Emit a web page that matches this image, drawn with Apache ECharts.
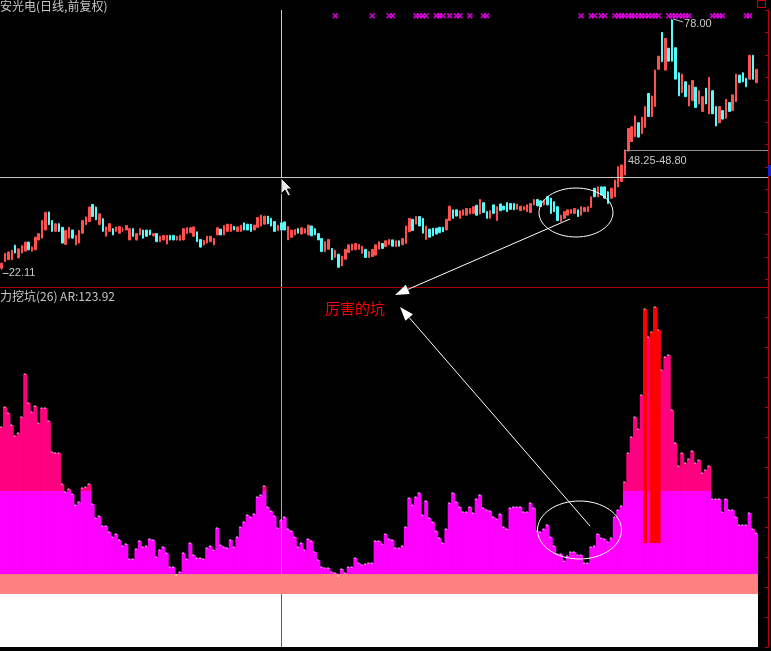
<!DOCTYPE html>
<html>
<head>
<meta charset="utf-8">
<script src="https://cdn.jsdelivr.net/npm/echarts/dist/echarts.min.js"></script>
<style>
html,body{margin:0;padding:0;background:#000;}
#c{width:771px;height:651px;}
</style>
</head>
<body>
<div id="c"></div>
<script>
// ---- price candles: [open, close, low, high] ----
const candles = [
[22.5,23.6,22.11,23.7],[24.0,25.8,23.9,25.9],[24.4,26.1,24.3,26.2],[24.4,26.5,24.3,26.6],[27.6,25.9,25.8,27.7],
[24.8,26.8,24.7,26.9],[25.9,27.5,25.8,27.7],[26.3,28.3,26.2,28.4],[28.3,26.6,26.5,28.4],[26.3,27.2,26.2,27.3],
[26.6,29.4,26.5,29.5],[28.8,30.2,28.7,30.3],[29.2,33.1,29.1,33.2],[31.0,34.9,31.0,35.1],[35.0,32.2,32.1,35.1],
[33.1,30.7,30.6,33.2],[30.7,32.4,30.6,32.5],[32.4,30.7,30.6,32.5],[31.6,28.1,28.0,31.7],[27.8,30.9,27.7,31.0],
[29.2,31.6,29.1,31.7],[31.0,29.2,29.1,31.0],[27.7,29.8,27.6,29.9],[28.1,30.9,28.0,31.0],[30.3,33.1,30.2,33.2],
[32.2,33.9,32.1,34.0],[32.9,36.1,32.8,36.2],[36.7,34.0,33.9,36.8],[36.1,33.3,33.2,36.2],[32.2,34.6,32.1,34.7],
[33.5,30.7,30.6,33.6],[29.6,31.7,29.5,31.7],[30.7,32.4,30.6,32.5],[31.3,29.9,29.9,31.4],[30.7,31.7,30.6,31.7],
[30.3,31.8,30.2,31.9],[31.0,31.1,30.6,31.6],[31.0,32.0,31.0,32.1],[28.8,31.3,28.7,31.4],[31.3,29.6,29.5,31.4],
[28.8,30.2,28.7,30.3],[29.9,31.3,29.9,31.4],[31.0,29.2,29.1,31.0],[31.0,29.6,29.5,31.0],[31.0,29.9,29.9,31.0],
[29.7,30.2,29.6,30.3],[30.2,28.4,28.4,30.3],[28.4,29.6,28.4,29.7],[28.8,29.8,28.7,29.9],[27.9,29.8,27.8,29.9],
[29.8,28.8,28.7,29.9],[29.8,28.8,28.7,29.9],[28.8,29.6,28.7,29.7],[28.7,29.8,28.6,29.9],[28.8,31.3,28.7,31.4],
[30.2,31.5,30.2,31.6],[30.4,31.5,30.4,31.6],[29.6,31.7,29.5,31.7],[30.6,28.4,28.4,30.6],[28.9,27.2,27.1,28.9],
[27.7,28.7,27.6,28.8],[28.1,29.6,28.0,29.7],[28.4,29.6,28.4,29.7],[27.7,29.1,27.6,29.2],[29.9,31.5,29.9,31.6],
[31.2,29.9,29.9,31.2],[29.9,32.0,29.9,32.1],[30.7,32.3,30.6,32.3],[30.7,32.3,30.6,32.3],[31.8,31.0,31.0,31.9],
[30.7,31.7,30.6,31.7],[30.7,32.1,30.6,32.1],[32.6,31.0,31.0,32.6],[32.3,31.0,31.0,32.3],[32.3,30.7,30.6,32.3],
[31.0,32.1,31.0,32.1],[31.6,33.8,31.6,33.8],[31.9,34.3,31.8,34.4],[32.3,34.1,32.3,34.1],[34.1,32.4,32.3,34.1],
[33.6,31.9,31.8,33.6],[32.9,30.7,30.6,32.9],[30.9,32.1,30.8,32.1],[32.6,31.0,31.0,32.6],[32.8,31.0,31.0,32.9],
[28.8,31.8,28.8,31.9],[29.4,31.0,29.3,31.0],[29.9,31.1,29.9,31.2],[31.3,30.3,30.3,31.4],[30.1,31.5,30.1,31.6],
[30.3,31.3,30.3,31.4],[29.9,32.1,29.9,32.1],[31.9,29.7,29.7,31.9],[31.3,29.9,29.9,31.4],[30.2,28.8,28.8,30.3],
[29.1,26.2,26.2,29.2],[26.2,28.4,26.2,28.4],[26.7,28.9,26.7,28.9],[26.9,24.4,24.3,26.9],[24.9,26.5,24.9,26.6],
[25.6,22.7,22.7,25.7],[23.0,25.2,23.0,25.2],[24.5,26.7,24.5,26.7],[26.0,27.7,26.0,27.7],[26.5,27.9,26.5,27.9],
[26.6,28.0,26.6,28.0],[26.7,27.8,26.7,27.8],[25.8,27.4,25.8,27.4],[26.7,24.9,24.9,26.7],[24.9,26.2,24.9,26.2],
[25.1,26.7,25.1,26.7],[25.4,27.7,25.4,27.7],[26.7,28.4,26.7,28.4],[28.0,26.9,26.9,28.0],[27.3,28.6,27.3,28.6],
[27.7,28.9,27.7,28.9],[28.8,27.4,27.4,28.8],[27.3,28.6,27.3,28.6],[28.6,27.4,27.4,28.6],[27.7,29.1,27.7,29.2],
[28.0,31.9,28.0,31.9],[30.6,33.6,30.6,33.6],[33.4,30.9,30.8,33.4],[32.3,34.0,32.3,34.0],[34.0,31.9,31.9,34.0],
[33.6,30.3,30.3,33.6],[28.9,31.9,28.9,31.9],[31.2,29.4,29.4,31.2],[31.4,29.7,29.7,31.4],[31.4,30.1,30.1,31.4],
[31.6,30.4,30.4,31.6],[31.6,30.6,30.6,31.6],[31.0,33.4,31.0,33.4],[33.1,36.3,33.1,36.4],[35.5,33.6,33.6,35.5],
[35.5,34.1,34.1,35.5],[33.6,35.3,33.6,35.3],[34.3,35.5,34.3,35.5],[34.3,35.8,34.3,35.8],[34.6,35.8,34.6,35.8],
[34.7,36.2,34.7,36.2],[36.5,34.3,34.3,36.6],[34.6,37.8,34.5,37.9],[37.1,34.9,34.9,37.1],[35.1,33.6,33.6,35.1],
[33.6,35.3,33.6,35.3],[36.6,34.7,34.7,36.6],[33.1,36.2,33.1,36.2],[36.8,35.3,35.3,36.8],[36.3,35.5,35.5,36.4],
[37.1,35.1,35.1,37.1],[36.9,35.6,35.6,37.0],[36.9,35.5,35.5,37.0],[35.6,36.8,35.6,36.8],[35.3,36.3,35.3,36.4],
[35.5,36.2,35.4,36.2],[35.1,36.6,35.0,36.6],[34.9,36.9,34.9,37.0],[36.6,37.8,36.5,37.9],[37.8,36.4,36.3,37.9],
[37.5,36.2,36.2,37.6],[36.6,37.7,36.5,37.7],[38.4,36.6,36.5,38.4],[38.1,34.7,34.7,38.1],[37.3,35.1,35.1,37.3],
[36.2,33.1,33.0,36.2],[32.9,34.3,32.8,34.4],[33.6,35.1,33.6,35.1],[34.3,35.5,34.3,35.5],[34.7,35.6,34.7,35.6],
[34.7,35.8,34.7,35.9],[35.5,34.0,33.9,35.5],[34.3,36.2,34.3,36.2],[35.1,36.0,35.1,36.1],[35.1,36.2,35.1,36.2],
[36.0,38.4,36.0,38.4],[40.3,38.4,38.4,40.3],[38.4,40.6,38.4,40.7],[40.6,38.8,38.8,40.7],[40.6,38.1,38.0,40.7],
[39.5,36.9,36.9,39.6],[38.1,40.3,38.0,40.3],[38.4,42.1,38.4,42.2],[40.6,45.1,40.6,45.1],[41.8,45.5,41.8,45.5],
[43.3,48.8,43.2,48.9],[48.6,53.6,48.5,53.7],[50.7,54.0,50.6,54.1],[51.8,56.4,51.7,56.5],[54.9,51.7,51.6,55.0],
[52.5,56.1,52.5,56.2],[53.9,58.5,53.8,58.5],[61.4,56.3,56.2,61.5],[56.3,60.8,56.2,60.9],[58.5,66.6,58.4,66.7],
[66.8,69.7,66.7,69.8],[75.0,68.5,68.4,75.1],[66.6,73.7,66.6,73.7],[71.5,68.6,68.6,71.5],[77.8,68.6,68.6,78.0],
[71.6,64.6,64.6,71.6],[66.0,60.9,60.8,66.1],[61.6,65.7,61.6,65.8],[64.0,60.7,60.7,64.1],[58.6,63.3,58.6,63.3],
[59.8,64.3,59.8,64.3],[62.8,58.3,58.3,62.8],[59.1,62.0,59.0,62.1],[57.4,60.7,57.3,60.7],[62.6,59.1,59.0,62.6],
[56.9,65.0,56.8,65.0],[62.0,56.9,56.8,62.1],[58.5,54.2,54.1,58.5],[54.9,58.5,54.9,58.5],[57.6,55.7,55.6,57.6],
[55.9,60.1,55.8,60.1],[59.4,57.4,57.3,59.4],[57.6,61.1,57.6,61.1],[59.6,65.7,59.6,65.8],[65.5,63.8,63.8,65.5],
[66.0,64.0,64.0,66.1],[64.8,62.9,62.9,64.8],[64.6,69.9,64.5,70.0],[69.9,64.6,64.5,70.0],[63.8,66.8,63.8,66.8]
];

// ---- indicator (力挖坑) values, one per day ----
const arValues = [
220,240,234,222,211,214,230,273,244,235,
241,224,239,239,226,195,194,194,163,155,
158,153,142,145,159,160,163,143,129,131,
121,121,115,110,113,107,101,103,88,88,
98,106,100,101,108,107,90,97,100,94,
80,80,72,75,94,88,104,92,89,89,
88,99,101,97,119,102,100,99,107,100,
110,120,125,132,130,133,150,152,161,140,
136,131,119,127,130,118,116,110,100,104,
97,108,106,95,87,80,79,79,75,74,
71,78,74,80,80,89,84,82,83,84,
84,106,106,103,113,108,107,99,99,101,
120,149,142,150,154,132,146,129,125,116,
109,104,118,144,154,145,140,135,135,140,
134,148,152,139,137,136,130,128,133,120,
118,139,140,140,140,135,135,144,139,116,
115,118,122,110,101,93,93,86,91,95,
95,92,92,84,84,100,101,113,109,108,
105,109,130,137,141,165,194,210,230,218,
252,338,310,315,340,317,277,290,292,237,
204,181,194,184,188,196,184,187,174,177,
181,148,148,148,135,148,137,137,130,122,
122,122,134,118,114
];

// ---- levels of the indicator bands ----
const whiteTop = 53;      // white band 0..53
const salmonTop = 73;     // salmon band 53..73, magenta bars start here
const pinkLevel = 156;    // above this the bar turns pink
const redBase = 104;      // red signal bars start here
const redDays = [191, 193, 194, 195];

// ---- signal markers (×) on the price panel ----
const markerDays = [99,110,115,116,123,124,125,126,129,130,131,133,135,136,139,143,144,
  172,175,176,178,179,182,183,184,185,186,187,188,189,190,191,192,193,194,195,
  198,199,200,201,202,203,204,211,212,213,214,221,222];
const markerLevel = 78.7;

const cursorDay = 83;     // crosshair day
const cursorPrice = 42.7; // crosshair price
const lowPrice = 22.11, lowDay = 0;
const highPrice = 78.00, highDay = 199;

const days = candles.map((_, i) => String(i + 1));

const magentaPart = arValues.map(v => Math.max(0, Math.min(v, pinkLevel) - salmonTop));
const pinkPart = arValues.map(v => Math.max(0, v - pinkLevel));
const baseMag = arValues.map(() => salmonTop);
const redBaseData = arValues.map((v, i) => redDays.includes(i) ? redBase : '-');
const redPart = arValues.map((v, i) => redDays.includes(i) ? v - redBase : '-');

const chart = echarts.init(document.getElementById('c'), null, {renderer: 'canvas'});
const crossColor = '#c8c8c8';
const axisRed = '#c00000';
const X_PATH = 'path://M0,2L2,0L5,3L8,0L10,2L7,5L10,8L8,10L5,7L2,10L0,8L3,5Z';
const BW = 4; // bar width (slightly wider than a slot so neighbours overlap without seams)

const hiddenX = (gi) => ({
  type: 'category', data: days, gridIndex: gi, boundaryGap: true,
  axisLine: {show: false}, axisTick: {show: false}, axisLabel: {show: false}, splitLine: {show: false}
});

const option = {
  backgroundColor: '#000',
  animation: false,
  grid: [
    {left: 0, top: 10, width: 758, height: 277},
    {left: 0, top: 287, width: 758, height: 360}
  ],
  xAxis: [hiddenX(0), hiddenX(1)],
  yAxis: [
    {type: 'value', gridIndex: 0, min: 18.31, max: 80, position: 'right', offset: 10, splitNumber: 12,
     axisLine: {show: true, lineStyle: {color: axisRed}},
     axisTick: {show: true, inside: true, length: 3, lineStyle: {color: axisRed}},
     axisLabel: {show: false}, splitLine: {show: false}},
    {type: 'value', gridIndex: 1, min: 0, max: 360, position: 'right', offset: 10, splitNumber: 14,
     axisLine: {show: true, lineStyle: {color: axisRed}},
     axisTick: {show: true, inside: true, length: 3, lineStyle: {color: axisRed}},
     axisLabel: {show: false}, splitLine: {show: false}}
  ],
  series: [
    {
      type: 'candlestick', xAxisIndex: 0, yAxisIndex: 0, data: candles, barWidth: 2,
      itemStyle: {color: '#ff5050', color0: '#54fcfc', borderColor: '#ff5050', borderColor0: '#54fcfc', borderWidth: 1},
      markLine: {
        silent: true, symbol: 'none', label: {show: false},
        lineStyle: {color: crossColor, width: 1, type: 'solid'},
        data: [{xAxis: days[cursorDay]}, {yAxis: cursorPrice}]
      },
      z: 3
    },
    {
      type: 'scatter', xAxisIndex: 0, yAxisIndex: 0, symbol: X_PATH, symbolSize: 6,
      itemStyle: {color: '#ff00ff'},
      data: markerDays.map(d => [d, markerLevel]), z: 4
    },
    {
      type: 'bar', xAxisIndex: 1, yAxisIndex: 1, stack: 'ar', data: baseMag,
      barWidth: BW, barGap: '-100%',
      itemStyle: {color: 'rgba(0,0,0,0)'},
      markArea: {
        silent: true,
        data: [
          [{yAxis: 0, itemStyle: {color: '#ffffff'}}, {yAxis: whiteTop}],
          [{yAxis: whiteTop, itemStyle: {color: '#ff8080'}}, {yAxis: salmonTop}]
        ]
      },
      z: 1
    },
    {
      type: 'bar', xAxisIndex: 1, yAxisIndex: 1, stack: 'ar', data: magentaPart,
      barWidth: BW, barGap: '-100%',
      itemStyle: {color: '#ff00ff'}, z: 2
    },
    {
      type: 'bar', xAxisIndex: 1, yAxisIndex: 1, stack: 'ar', data: pinkPart,
      barWidth: BW, barGap: '-100%',
      itemStyle: {color: '#ff0080'}, z: 2
    },
    {
      type: 'bar', xAxisIndex: 1, yAxisIndex: 1, stack: 'red', data: redBaseData,
      barWidth: BW, barGap: '-100%',
      itemStyle: {color: 'rgba(0,0,0,0)'}, z: 3
    },
    {
      type: 'bar', xAxisIndex: 1, yAxisIndex: 1, stack: 'red', data: redPart,
      barWidth: BW, barGap: '-100%',
      itemStyle: {color: '#ff0000'}, z: 3
    },
    {
      type: 'scatter', xAxisIndex: 1, yAxisIndex: 1, symbol: 'rect', symbolSize: [2, 1], symbolOffset: [-0.5, 0],
      itemStyle: {color: '#ffffff'}, data: arValues.map((v, i) => [i, v]), z: 4,
      markLine: {
        silent: true, symbol: 'none', label: {show: false},
        lineStyle: {color: '#a8a8a8', width: 1, type: 'solid'},
        data: [
          [{coord: [days[cursorDay], whiteTop]}, {coord: [days[cursorDay], 360]}],
          [{coord: [days[cursorDay], 0], lineStyle: {color: '#606060'}}, {coord: [days[cursorDay], whiteTop]}]
        ]
      }
    }
  ]
};
chart.setOption(option);

// ---- annotations ----
function arrow(x1, y1, x2, y2) {
  const a = Math.atan2(y2 - y1, x2 - x1), L = 14, Wd = 5;
  const bx = x2 - L * Math.cos(a), by = y2 - L * Math.sin(a);
  const nx = -Math.sin(a) * Wd, ny = Math.cos(a) * Wd;
  return [
    {type: 'line', shape: {x1: x1, y1: y1, x2: bx, y2: by}, style: {stroke: '#fff', lineWidth: 1}, z: 10},
    {type: 'polygon', shape: {points: [[x2, y2], [bx + nx, by + ny], [bx - nx, by - ny]]}, style: {fill: '#fff'}, z: 10}
  ];
}
const lowPt = chart.convertToPixel({xAxisIndex: 0, yAxisIndex: 0}, [lowDay, lowPrice]);
const highPt = chart.convertToPixel({xAxisIndex: 0, yAxisIndex: 0}, [highDay, highPrice]);
const txt = (x, y, s, color, size, family) => ({
  type: 'text', x: x, y: y, z: 12,
  style: {text: s, fill: color, font: (size || 12) + 'px ' + (family || '"Noto Sans CJK SC"'), textVerticalAlign: 'middle'}
});
const numFont = '"Liberation Sans", "DejaVu Sans"';
const gfx = [
  {type: 'line', shape: {x1: 0, y1: 287.5, x2: 769, y2: 287.5}, style: {stroke: '#b00000', lineWidth: 1}, z: 9},
  {type: 'line', shape: {x1: 758, y1: 177.5, x2: 768, y2: 177.5}, style: {stroke: crossColor, lineWidth: 1}, z: 9},
  txt(0, 6, '安光电(日线,前复权)', '#c8c8c8', 12),
  txt(0, 296, '力挖坑(26) AR:123.92', '#c8c8c8', 12),
  txt(325, 308, '厉害的坑', '#ff0000', 15),
  // price labels
  {type: 'line', shape: {x1: lowPt[0] + 1, y1: lowPt[1] + 3.5, x2: lowPt[0] + 7, y2: lowPt[1] + 3.5}, style: {stroke: '#c8c8c8', lineWidth: 1}, z: 12},
  txt(lowPt[0] + 7, lowPt[1] + 3.5, '22.11', '#c8c8c8', 11, numFont),
  {type: 'line', shape: {x1: highPt[0] + 1, y1: highPt[1], x2: highPt[0] + 11, y2: highPt[1] + 3}, style: {stroke: '#c8c8c8', lineWidth: 1}, z: 12},
  txt(highPt[0] + 12, highPt[1] + 4.5, '78.00', '#c8c8c8', 11, numFont),
  {type: 'line', shape: {x1: 624, y1: 150.5, x2: 768, y2: 150.5}, style: {stroke: '#909090', lineWidth: 1}, z: 9},
  txt(628, 160.5, '48.25-48.80', '#c8c8c8', 11, numFont),
  // ellipses
  {type: 'ellipse', shape: {cx: 576, cy: 212.5, rx: 37, ry: 24.5}, style: {fill: null, stroke: '#fff', lineWidth: 1}, z: 10},
  {type: 'ellipse', shape: {cx: 579.5, cy: 530, rx: 42, ry: 29}, style: {fill: null, stroke: '#fff', lineWidth: 1}, z: 10},
  // cursor
  {type: 'polygon', shape: {points: [[281, 178], [281, 194], [285, 190], [288, 196], [290.5, 195], [287.5, 189], [292, 189]]},
   style: {fill: '#e8e8e8', stroke: '#000', lineWidth: 1}, z: 13},
  // corner bits
  {type: 'rect', shape: {x: 757.5, y: 0.5, width: 8, height: 7}, style: {fill: null, stroke: '#d00000', lineWidth: 1}, z: 9},
  {type: 'rect', shape: {x: 768, y: 165, width: 3, height: 11}, style: {fill: '#2020d0'}, z: 9}
].concat(arrow(570, 219, 395, 295), arrow(590, 526, 400, 307));
chart.setOption({graphic: {elements: gfx}});
</script>
</body>
</html>
